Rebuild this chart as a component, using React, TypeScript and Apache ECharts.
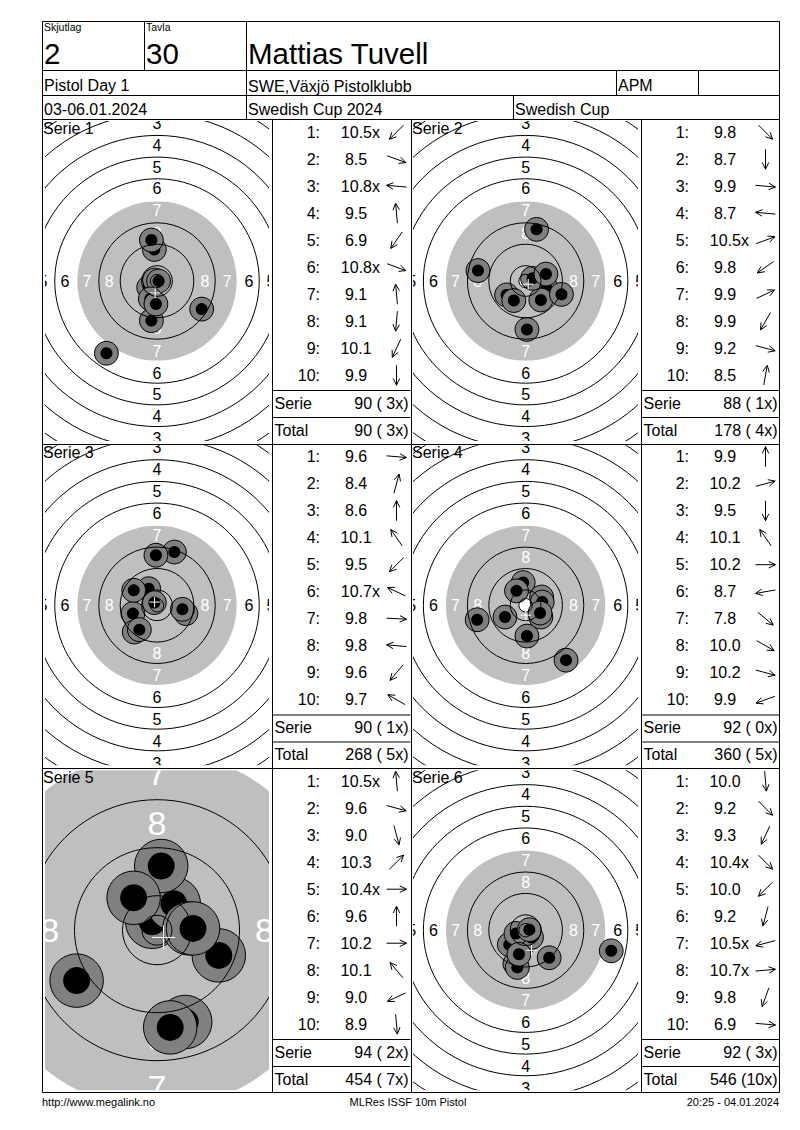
import React, { useEffect, useRef } from "react";
import * as echarts from "echarts";

const FONT = '"Liberation Sans", Arial, sans-serif';

// Target geometry, millimetres from the target centre
const ringRadii = [2.5, 5.75, 13.75, 21.75, 38.2, 46.3, 54.4, 62.5, 70.6];
const blackRadius = 29.75;
const innerTenRadius = 2.5;
const pelletOuter = 4.45;
const pelletInner = 2.25;
const ringNumbers = [8, 7, 6, 5, 4, 3];
const numberDistances = [17.9, 26.2, 34.4, 42.6, 50.8, 59];

// Shots: [x mm, y mm] in firing order
const shots1 = [[-3.1, -2.4], [16.7, -10.5], [-0.9, 0.4], [-1.0, 11.8], [-18.9, -27.0], [0.6, 0.0], [-2.1, 15.3], [-2.1, -14.8], [-2.5, -6.7], [-0.4, -8.6]];
const shots2 = [[7.6, -2.4], [0.5, -18.1], [5.7, -7.1], [-17.8, 3.9], [2.6, 1.0], [-7.1, -5.2], [7.6, 2.6], [-4.4, -7.3], [13.4, -5.0], [4.1, 19.3]];
const shots3 = [[10.8, -3.1], [6.5, 19.9], [-0.4, 18.7], [-3.1, 6.2], [-9.0, -3.1], [-1.0, 1.0], [9.5, -1.5], [-8.7, 5.6], [-8.5, -10.0], [-6.6, -9.1]];
const shots4 = [[-0.9, 8.5], [6.0, 3.1], [0.5, -11.5], [-3.4, 5.4], [6.2, 1.2], [-18.1, -5.4], [15.1, -20.5], [5.7, -4.4], [5.4, -2.9], [-7.7, -4.4]];
const shots5 = [[-0.8, 1.4], [10.3, -4.2], [4.7, -15.3], [2.8, 4.4], [5.4, 0.3], [0.7, 10.7], [6.0, 0.3], [-3.9, 5.4], [-13.4, -8.4], [2.2, -16.2]];
const shots6 = [[0.4, -4.0], [8.8, -10.3], [-4.0, -12.5], [2.2, -2.7], [-6.1, -5.4], [-3.1, -13.9], [-3.6, -1.2], [1.4, 0.2], [-2.5, -9.0], [32.0, -7.7]];

// Mean point of impact crosses
const centres = [[-0.7, -4.4], [1.0, -1.2], [-0.9, 1.2], [0.1, -3.7], [1.1, -1.2], [2.2, -7.5]];

// Scores
const scores1 = ["10.5x", "8.5", "10.8x", "9.5", "6.9", "10.8x", "9.1", "9.1", "10.1", "9.9"];
const scores2 = ["9.8", "8.7", "9.9", "8.7", "10.5x", "9.8", "9.9", "9.9", "9.2", "8.5"];
const scores3 = ["9.6", "8.4", "8.6", "10.1", "9.5", "10.7x", "9.8", "9.8", "9.6", "9.7"];
const scores4 = ["9.9", "10.2", "9.5", "10.1", "10.2", "8.7", "7.8", "10.0", "10.2", "9.9"];
const scores5 = ["10.5x", "9.6", "9.0", "10.3", "10.4x", "9.6", "10.2", "10.1", "9.0", "8.9"];
const scores6 = ["10.0", "9.2", "9.3", "10.4x", "10.0", "9.2", "10.5x", "10.7x", "9.8", "6.9"];

// Arrow directions, degrees counter-clockwise from east
const arrows1 = [225, -20, 175, 95, 235, -20, 95, 265, 245, 270];
const arrows2 = [-45, 270, -5, 175, 20, 215, 25, 240, -15, 80];
const arrows3 = [-5, 75, 90, 125, 225, 155, -3, 175, 230, 150];
const arrows4 = [90, 15, 270, 125, 0, 190, -40, -30, -15, 200];
const arrows5 = [95, -15, 285, 45, 0, 90, 0, 130, 205, 275];
const arrows6 = [275, -45, 245, -45, 225, 255, 195, 5, 250, -5];

const serieTotals = ["90 ( 3x)", "88 ( 1x)", "90 ( 1x)", "92 ( 0x)", "94 ( 2x)", "92 ( 3x)"];
const runningTotals = ["90 ( 3x)", "178 ( 4x)", "268 ( 5x)", "360 ( 5x)", "454 ( 7x)", "546 (10x)"];

const allShots = [shots1, shots2, shots3, shots4, shots5, shots6];
const allScores = [scores1, scores2, scores3, scores4, scores5, scores6];
const allArrows = [arrows1, arrows2, arrows3, arrows4, arrows5, arrows6];

// Layout
const colCentre = [157, 525.6];
const rowCentre = [281, 605.3, 930.2];
const colTable = [272.5, 641.5];
const rowTop = [119.5, 444, 768.5];
const NORMAL = 2.676;
const ZOOMED = 6;

function line(x1: number, y1: number, x2: number, y2: number) {
  return { type: "line", silent: true, z: 50, shape: { x1, y1, x2, y2 }, style: { stroke: "#000", lineWidth: 1 } };
}
function label(text: string, x: number, y: number, size: number, align = "left") {
  return { type: "text", silent: true, z: 60, style: { text, x, y, fill: "#000", font: `${size}px ${FONT}`, align, verticalAlign: "middle" } };
}

function buildOption() {
  const grids: any[] = [];
  const xAxes: any[] = [];
  const yAxes: any[] = [];
  const series: any[] = [];
  const graphics: any[] = [];

  const addAxes = (left: number, top: number, width: number, height: number, xr: number[], yr: number[], inverse = false) => {
    grids.push({ left, top, width, height, containLabel: false, show: false });
    xAxes.push({ type: "value", gridIndex: grids.length - 1, min: xr[0], max: xr[1], show: false });
    yAxes.push({ type: "value", gridIndex: grids.length - 1, min: yr[0], max: yr[1], show: false, inverse });
    return grids.length - 1;
  };

  for (let s = 0; s < 6; s++) {
    const col = s % 2;
    const row = Math.floor(s / 2);
    const zoomed = s === 4;
    const scale = zoomed ? ZOOMED : NORMAL;
    const cx = colCentre[col];
    const cy = rowCentre[row];
    const halfW = 112;
    const halfH = 160;
    const idx = addAxes(cx - halfW, cy - halfH, halfW * 2, halfH * 2, [-halfW / scale, halfW / scale], [-halfH / scale, halfH / scale]);
    const base = { type: "custom", coordinateSystem: "cartesian2d", xAxisIndex: idx, yAxisIndex: idx, clip: true, silent: true, animation: false };
    const numberSize = zoomed ? 34 : 16;

    // black area of the target, drawn in grey
    series.push({
      ...base,
      z: 2,
      data: zoomed ? [[blackRadius, 0]] : [[blackRadius, 0], [innerTenRadius, 1]],
      renderItem: (_p: any, api: any) => {
        const c = api.coord([0, 0]);
        return { type: "circle", shape: { cx: c[0], cy: c[1], r: api.size([api.value(0), 0])[0] }, style: { fill: api.value(1) ? "#fff" : "#bfbfbf", stroke: "none" } };
      },
    });

    // ring numbers on the four axes, only those that reach into this target's window
    const numberData: number[][] = [];
    ringNumbers.forEach((n, i) => {
      const d = numberDistances[i];
      const px = d * scale;
      if (px <= halfH) numberData.push([0, d, n], [0, -d, n]);
      if (n >= 5 && px <= halfW + 4) numberData.push([d, 0, n], [-d, 0, n]);
    });
    series.push({
      ...base,
      z: 3,
      data: numberData,
      renderItem: (_p: any, api: any) => {
        const c = api.coord([api.value(0), api.value(1)]);
        const n = api.value(2);
        return { type: "text", style: { text: String(n), x: c[0], y: c[1], fill: n >= 7 ? "#fff" : "#000", font: `${numberSize}px ${FONT}`, align: "center", verticalAlign: "middle" } };
      },
    });

    // pellets, in firing order
    series.push({
      ...base,
      z: 4,
      data: allShots[s],
      renderItem: (_p: any, api: any) => {
        const c = api.coord([api.value(0), api.value(1)]);
        return {
          type: "group",
          children: [
            { type: "circle", shape: { cx: c[0], cy: c[1], r: api.size([pelletOuter, 0])[0] }, style: { fill: "#808080", stroke: "#000", lineWidth: 1 } },
            { type: "circle", shape: { cx: c[0], cy: c[1], r: api.size([pelletInner, 0])[0] }, style: { fill: "#000", stroke: "none" } },
          ],
        };
      },
    });

    // ring lines over the pellets
    series.push({
      ...base,
      z: 5,
      data: ringRadii.map((r) => [r, 0]),
      renderItem: (_p: any, api: any) => {
        const c = api.coord([0, 0]);
        return { type: "circle", shape: { cx: c[0], cy: c[1], r: api.size([api.value(0), 0])[0] }, style: { fill: "none", stroke: "#000", lineWidth: 1 } };
      },
    });

    // mean point of impact
    series.push({
      ...base,
      z: 6,
      data: [centres[s]],
      renderItem: (_p: any, api: any) => {
        const c = api.coord([api.value(0), api.value(1)]);
        const arm = api.size([1.95, 0])[0];
        const st = { stroke: "#fff", lineWidth: 1 };
        return {
          type: "group",
          children: [
            { type: "line", shape: { x1: c[0] - arm, y1: c[1], x2: c[0] + arm, y2: c[1] }, style: st },
            { type: "line", shape: { x1: c[0], y1: c[1] - arm, x2: c[0], y2: c[1] + arm }, style: st },
          ],
        };
      },
    });

    // table: rows 0..9 shots, 10 serie, 11 total; columns in px from the cell's left
    const tx = colTable[col];
    const ty = rowTop[row];
    const tIdx = addAxes(tx, ty, 139, 324, [0, 139], [0, 12], true);
    const tableBase = { type: "custom", coordinateSystem: "cartesian2d", xAxisIndex: tIdx, yAxisIndex: tIdx, silent: true, animation: false, z: 10 };
    const rows = allScores[s].map((v, i) => [i, allArrows[s][i]]);
    series.push({
      ...tableBase,
      data: rows,
      renderItem: (_p: any, api: any) => {
        const i = api.value(0);
        const angle = (api.value(1) * Math.PI) / 180;
        const score = allScores[s][i];
        const font = `16px ${FONT}`;
        const num = api.coord([47.5, i + 0.47]);
        const val = api.coord([83.5 + (score.endsWith("x") ? 4.4 : 0), i + 0.47]);
        const mid = api.coord([124, i + 0.47]);
        const dx = Math.cos(angle);
        const dy = -Math.sin(angle);
        const tip = [mid[0] + dx * 10, mid[1] + dy * 10];
        const tail = [mid[0] - dx * 10, mid[1] - dy * 10];
        const barb = (a: number) => {
          const b = angle + Math.PI + a;
          return [tip[0] + Math.cos(b) * 7.5, tip[1] - Math.sin(b) * 7.5];
        };
        const st = { stroke: "#000", lineWidth: 1, fill: "none" };
        return {
          type: "group",
          children: [
            { type: "text", style: { text: `${i + 1}:`, x: num[0], y: num[1], fill: "#000", font, align: "right", verticalAlign: "middle" } },
            { type: "text", style: { text: score, x: val[0], y: val[1], fill: "#000", font, align: "center", verticalAlign: "middle" } },
            { type: "polyline", shape: { points: [tail, tip] }, style: st },
            { type: "polyline", shape: { points: [barb(0.45), tip, barb(-0.45)] }, style: st },
          ],
        };
      },
    });
    series.push({
      ...tableBase,
      data: [[10, 0], [11, 1]],
      renderItem: (_p: any, api: any) => {
        const r = api.value(0);
        const font = `16px ${FONT}`;
        const a = api.coord([2, r + 0.5]);
        const b = api.coord([136, r + 0.5]);
        return {
          type: "group",
          children: [
            { type: "text", style: { text: r === 10 ? "Serie" : "Total", x: a[0], y: a[1], fill: "#000", font, align: "left", verticalAlign: "middle" } },
            { type: "text", style: { text: r === 10 ? serieTotals[s] : runningTotals[s], x: b[0], y: b[1], fill: "#000", font, align: "right", verticalAlign: "middle" } },
          ],
        };
      },
    });

    graphics.push(label(`Serie ${s + 1}`, col === 0 ? 43 : 412, rowTop[row] + 8.5, 16));
    graphics.push(line(tx, ty + 271, tx + 138, ty + 271));
    graphics.push(line(tx, ty + 298, tx + 138, ty + 298));
  }

  // frame
  const L = 42.5, R = 779.5, T = 21.5, B = 1092.5;
  graphics.push(
    line(L, T, R, T), line(L, B, R, B), line(L, T, L, B), line(R, T, R, B),
    line(L, 70.5, R, 70.5), line(L, 95.5, R, 95.5), line(L, 119.5, R, 119.5),
    line(L, 444.5, R, 444.5), line(L, 768.5, R, 768.5),
    line(144.5, T, 144.5, 70.5), line(246.5, T, 246.5, 119.5),
    line(616.5, 70.5, 616.5, 95.5), line(698.5, 70.5, 698.5, 95.5), line(513.5, 95.5, 513.5, 119.5),
    line(272.5, 119.5, 272.5, B), line(411.5, 119.5, 411.5, B), line(641.5, 119.5, 641.5, B),
    label("Skjutlag", 44, 27, 10.5), label("Tavla", 146, 27, 10.5),
    label("2", 44, 53, 29.5), label("30", 146, 53, 29.5), label("Mattias Tuvell", 248, 53, 29.5),
    label("Pistol Day 1", 44, 85.5, 16), label("SWE,Växjö Pistolklubb", 248, 85.5, 16.1), label("APM", 618, 85.5, 16),
    label("03-06.01.2024", 44, 109.5, 16), label("Swedish Cup 2024", 248, 109.5, 16), label("Swedish Cup", 515, 109.5, 16),
    label("http://www.megalink.no", 42, 1102, 11), label("MLRes ISSF 10m Pistol", 408, 1102, 11, "center"), label("20:25 - 04.01.2024", 779, 1102, 11, "right")
  );

  return { animation: false, backgroundColor: "#fff", grid: grids, xAxis: xAxes, yAxis: yAxes, series, graphic: graphics };
}

export default function App() {
  const ref = useRef<HTMLDivElement>(null);
  useEffect(() => {
    const chart = echarts.init(ref.current!, undefined, { renderer: "svg" });
    chart.setOption(buildOption() as any);
    return () => chart.dispose();
  }, []);
  return <div ref={ref} style={{ position: "absolute", left: 0, top: 0, width: 800, height: 1130 }} />;
}
